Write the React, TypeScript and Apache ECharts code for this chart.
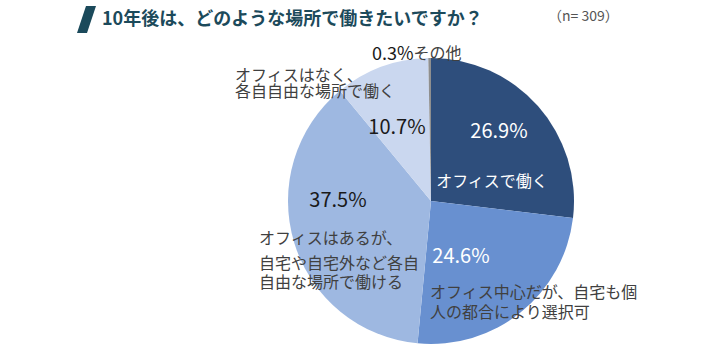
import React, { useEffect, useRef } from "react";
import * as echarts from "echarts";

const categories = [
  "オフィスで働く",
  "オフィス中心だが、自宅も個\n人の都合により選択可",
  "オフィスはあるが、\n自宅や自宅外など各自\n自由な場所で働ける",
  "オフィスはなく、\n各自自由な場所で働く",
  "その他",
];
const values = [26.9, 24.6, 37.5, 10.7, 0.3];
const colors = ["#2e4e7c", "#6890d0", "#9eb8e1", "#cad7ef", "#8f8f8f"];
const title = "10年後は、どのような場所で働きたいですか？";
const sampleNote = "（n= 309）";

const FONT = "'Noto Sans CJK JP', 'Noto Sans', sans-serif";

// label layout (positions only)
const pctPos = [
  { x: 499, y: 129, fill: "#ffffff" },
  { x: 461, y: 254, fill: "#ffffff" },
  { x: 338, y: 198, fill: "#1a1a1a" },
  { x: 397, y: 125, fill: "#1a1a1a" },
];
const namePos = [
  { x: 492, y: 180, fill: "#ffffff", align: "center", lh: 20 },
  { x: 430, y: 291, fill: "#404040", align: "left", lh: 20 },
  { x: 259, y: 237, fill: "#404040", align: "left", lh: 22 },
  { x: 235, y: 74, fill: "#404040", align: "left", lh: 16 },
];

export default function App() {
  const ref = useRef<HTMLDivElement>(null);
  useEffect(() => {
    if (!ref.current) return;
    const chart = echarts.init(ref.current, null, { renderer: "svg" });
    const graphics: any[] = [
      {
        type: "polygon",
        z: 10,
        shape: { points: [[86, 6], [96, 6], [87, 33], [77, 33]] },
        style: { fill: "#1b4a5b" },
      },
      {
        type: "text",
        z: 10,
        left: 102,
        top: 8,
        style: {
          text: title,
          font: `bold 18px ${FONT}`,
          fill: "#1c4a5b",
        },
      },
      {
        type: "text",
        z: 10,
        left: 548,
        top: 8,
        style: { text: sampleNote, font: `14px ${FONT}`, fill: "#555555" },
      },
    ];
    pctPos.forEach((p, i) => {
      graphics.push({
        type: "text",
        z: 10,
        x: p.x,
        y: p.y,
        style: {
          text: values[i].toFixed(1) + "%",
          font: `20px ${FONT}`,
          fill: p.fill,
          align: "center",
          verticalAlign: "middle",
        },
      });
    });
    namePos.forEach((p, i) => {
      const lines = categories[i].split("\n");
      lines.forEach((ln, j) => {
        let dy = j * p.lh;
        if (i === 2 && j > 0) dy = 25 + (j - 1) * 19;
        graphics.push({
          type: "text",
          z: 10,
          x: p.x,
          y: p.y + dy,
          style: {
            text: ln,
            font: `16px ${FONT}`,
            fill: p.fill,
            align: p.align,
            verticalAlign: "middle",
          },
        });
      });
    });
    graphics.push({
      type: "text",
      z: 10,
      x: 372,
      y: 52,
      style: {
        text: `{a|${values[4].toFixed(1)}%}{b|${categories[4]}}`,
        verticalAlign: "middle",
        rich: {
          a: { font: `18px ${FONT}`, fill: "#1a1a1a" },
          b: { font: `16px ${FONT}`, fill: "#404040" },
        },
      },
    });
    chart.setOption({
      animation: false,
      backgroundColor: "#ffffff",
      series: [
        {
          type: "pie",
          z: 1,
          center: [431, 201],
          radius: 143,
          startAngle: 90,
          clockwise: true,
          label: { show: false },
          labelLine: { show: false },
          itemStyle: { borderWidth: 0 },
          emphasis: { disabled: true },
          data: values.map((v, i) => ({
            value: v,
            name: categories[i],
            itemStyle: { color: colors[i] },
          })),
        },
      ],
      graphic: graphics,
    });
    return () => chart.dispose();
  }, []);
  return (
    <div
      ref={ref}
      style={{ position: "fixed", left: 0, top: 0, width: 720, height: 352 }}
    />
  );
}
